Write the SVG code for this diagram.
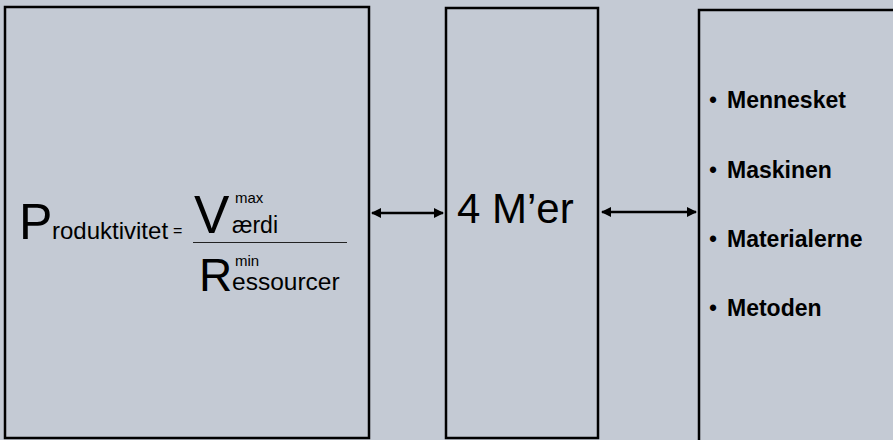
<svg xmlns="http://www.w3.org/2000/svg" width="893" height="440" viewBox="0 0 893 440">
<defs>
<style>
.box{fill:#c4cad4;stroke:#000;stroke-width:2.5}
.t{font-family:"Liberation Sans",Arial,sans-serif;fill:#000}
.b{font-family:"Liberation Sans",Arial,sans-serif;font-weight:bold;font-size:23px;fill:#000}
.bul{font-weight:normal;font-size:23px}
.conn{stroke:#000;stroke-width:2.5;fill:none}
</style>
<marker id="ah" viewBox="0 0 10 10" refX="9" refY="5" markerWidth="4.5" markerHeight="4" orient="auto-start-reverse" markerUnits="strokeWidth">
<path d="M0,0 L10,5 L0,10 Z" fill="#000"/>
</marker>
</defs>
<rect width="893" height="440" fill="#c4cad4"/>
<g id="formula">
<rect class="box" x="5" y="7" width="364" height="431"/>
<text class="t" x="19" y="239" font-size="50">P</text>
<text class="t" x="52" y="239" font-size="24">roduktivitet</text>
<text class="t" x="173" y="236" font-size="16">=</text>
<text class="t" x="194" y="233" font-size="53">V</text>
<text class="t" x="235" y="203" font-size="15">max</text>
<text class="t" x="232" y="233" font-size="23">ærdi</text>
<line x1="193" y1="242.5" x2="347" y2="242.5" stroke="#222" stroke-width="1"/>
<text class="t" x="199" y="291" font-size="46">R</text>
<text class="t" x="235" y="266" font-size="15">min</text>
<text class="t" x="232" y="290" font-size="24.5">essourcer</text>
</g>
<g id="m4">
<rect class="box" x="446" y="8" width="152" height="430"/>
<text class="t" x="457" y="223" font-size="42">4 M’er</text>
</g>
<g id="list">
<rect class="box" x="699" y="10" width="230" height="450"/>
<text class="b" y="108"><tspan class="bul" x="709">•</tspan><tspan x="727">Mennesket</tspan></text>
<text class="b" y="178"><tspan class="bul" x="709">•</tspan><tspan x="727">Maskinen</tspan></text>
<text class="b" y="247"><tspan class="bul" x="709">•</tspan><tspan x="727">Materialerne</tspan></text>
<text class="b" y="316"><tspan class="bul" x="709">•</tspan><tspan x="727">Metoden</tspan></text>
</g>
<g id="connectors">
<line class="conn" x1="372" y1="213" x2="443" y2="213" marker-start="url(#ah)" marker-end="url(#ah)"/>
<line class="conn" x1="602" y1="212" x2="696" y2="212" marker-start="url(#ah)" marker-end="url(#ah)"/>
</g>
</svg>
